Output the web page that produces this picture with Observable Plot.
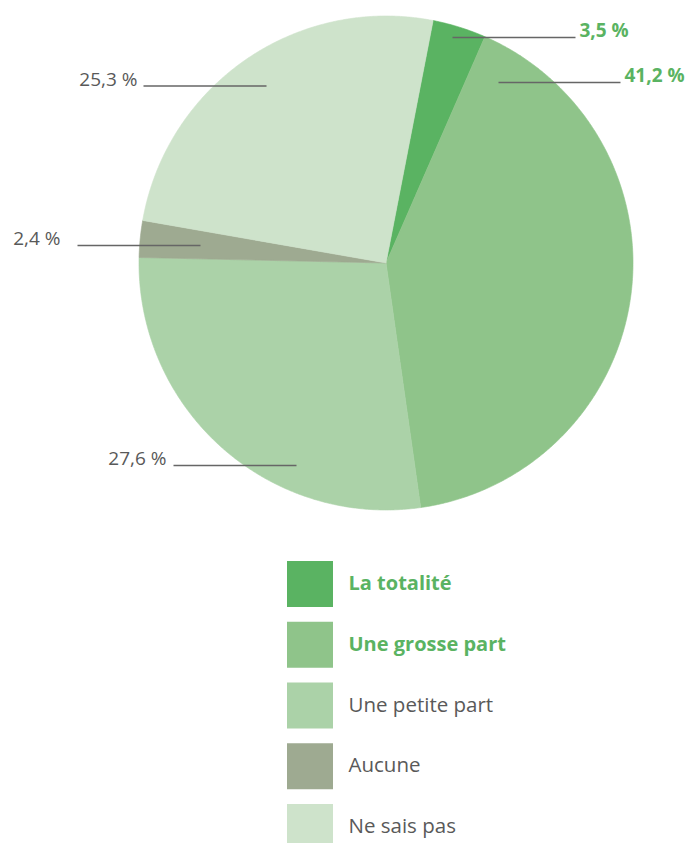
<!DOCTYPE html>
<html>
<head>
<meta charset="utf-8">
<script src="https://cdn.jsdelivr.net/npm/d3@7"></script>
<script src="https://cdn.jsdelivr.net/npm/@observablehq/plot@0.6"></script>
<style>body{margin:0;background:#fff}</style>
</head>
<body>
<div id="chart"></div>
<script>
// ---- data ----
const categories = ["La totalité", "Une grosse part", "Une petite part", "Aucune", "Ne sais pas"];
const shares = [3.5, 41.2, 27.6, 2.4, 25.3];
const valueLabels = ["3,5 %", "41,2 %", "27,6 %", "2,4 %", "25,3 %"];
const highlighted = [true, true, false, false, false];
const colors = ["#5ab362", "#8fc48a", "#abd2a8", "#9eaa91", "#cee3cb"];

// ---- layout ----
const W = 685, H = 843;
const cx = 385.5, cy = 262.5, R = 247;
const startDeg = 11;
const green = "#5ab362", gray = "#595959", lineGray = "#666666";
// leader lines: [x1, x2, y], text x, anchor
const labelLayout = [
  {x1: 452, x2: 575, y: 37, tx: 579, anchor: "start"},
  {x1: 498, x2: 620, y: 82, tx: 624, anchor: "start"},
  {x1: 173, x2: 296, y: 465, tx: 166, anchor: "end"},
  {x1: 77, x2: 200, y: 245, tx: 60, anchor: "end"},
  {x1: 143, x2: 266, y: 85.5, tx: 137, anchor: "end"}
];
const legendX = 287, legendSize = 46, legendY0 = 561, legendStep = 60.75, legendTextX = 348;

// ---- pie geometry from values ----
const arcs = d3.pie().sort(null)
  .startAngle(startDeg * Math.PI / 180)
  .endAngle(startDeg * Math.PI / 180 + 2 * Math.PI)(shares);
const piePoints = [];
arcs.forEach((a, i) => {
  const cat = categories[i];
  piePoints.push({category: cat, x: cx, y: cy});
  const n = Math.max(2, Math.ceil((a.endAngle - a.startAngle) / (0.4 * Math.PI / 180)));
  for (let k = 0; k <= n; k++) {
    const t = a.startAngle + (a.endAngle - a.startAngle) * k / n;
    piePoints.push({category: cat, x: cx + R * Math.sin(t), y: cy - R * Math.cos(t)});
  }
  piePoints.push({category: cat, x: cx, y: cy});
});

const labels = categories.map((c, i) => ({
  category: c, text: valueLabels[i], hi: highlighted[i], ...labelLayout[i]
}));
const legend = categories.map((c, i) => ({
  category: c, hi: highlighted[i],
  y1: legendY0 + i * legendStep, y2: legendY0 + i * legendStep + legendSize
}));

const chart = Plot.plot({
  width: W, height: H, margin: 0,
  x: {domain: [0, W], range: [0, W], axis: null},
  y: {domain: [0, H], range: [0, H], axis: null},
  color: {domain: categories, range: colors},
  style: {fontFamily: "'Open Sans', sans-serif", background: "white"},
  marks: [
    Plot.line(piePoints, {x: "x", y: "y", z: "category", fill: "category", stroke: "category", strokeWidth: 0.6, curve: "linear"}),
    Plot.link(labels, {x1: "x1", x2: "x2", y1: "y", y2: "y", stroke: lineGray, strokeWidth: 1.5}),
    Plot.text(labels.filter(d => d.hi), {x: "tx", y: d => d.y - 7, text: "text", textAnchor: "start", fill: green, fontWeight: "bold", fontSize: 19}),
    Plot.text(labels.filter(d => !d.hi), {x: "tx", y: d => d.y - 6.5, text: "text", textAnchor: "end", fill: gray, fontSize: 19}),
    Plot.rect(legend, {x1: legendX, x2: legendX + legendSize, y1: "y1", y2: "y2", fill: "category"}),
    Plot.text(legend.filter(d => d.hi), {x: legendTextX, y: d => (d.y1 + d.y2) / 2 - 1, text: "category", textAnchor: "start", fill: green, fontWeight: "bold", fontSize: 20}),
    Plot.text(legend.filter(d => !d.hi), {x: legendTextX, y: d => (d.y1 + d.y2) / 2 - 1, text: "category", textAnchor: "start", fill: gray, fontSize: 20.5})
  ]
});
document.getElementById("chart").appendChild(chart);
</script>
</body>
</html>
